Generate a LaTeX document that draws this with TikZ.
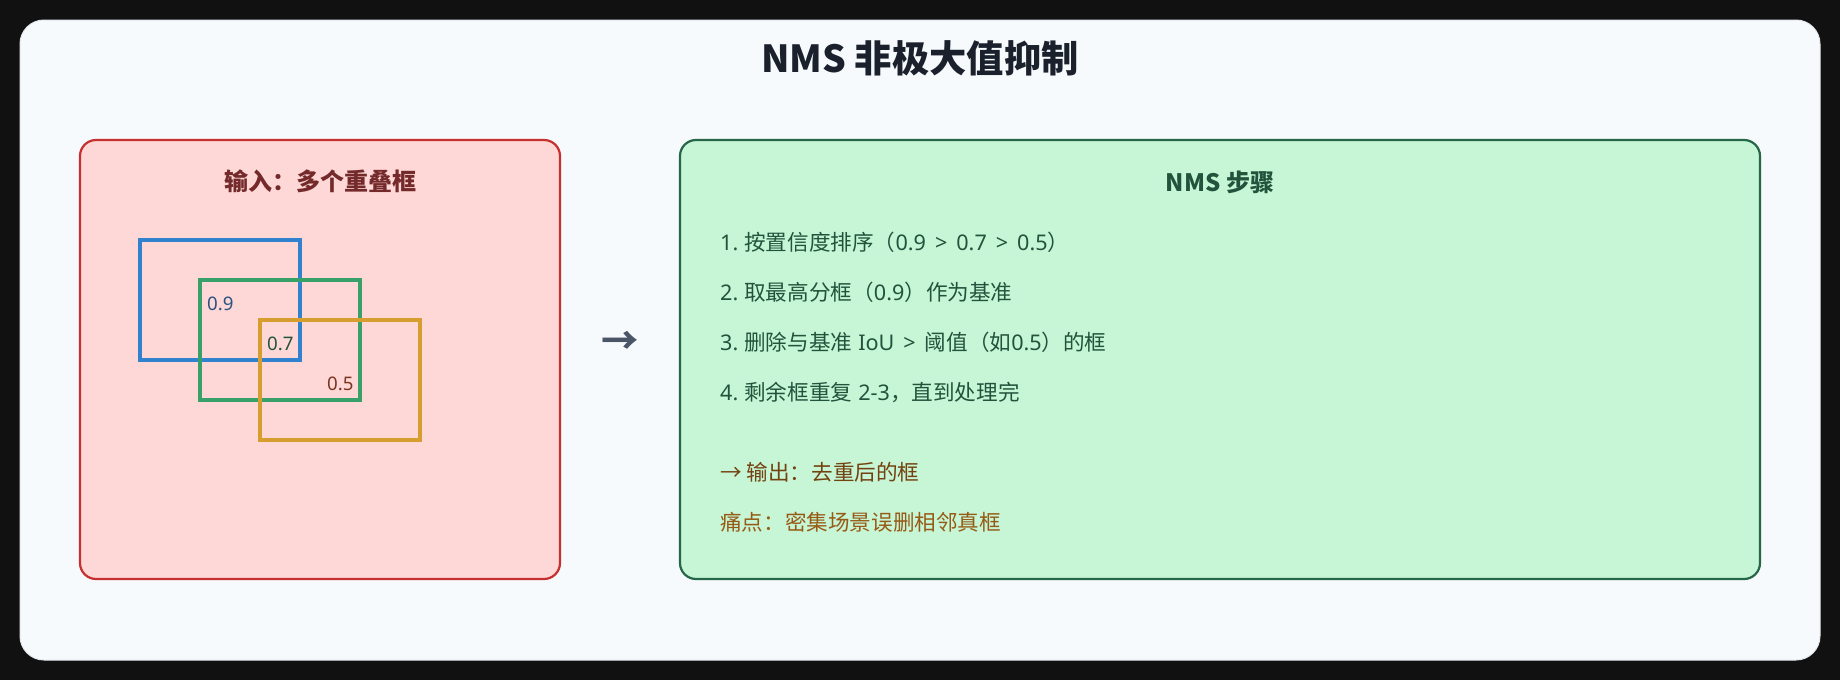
\documentclass[tikz,border=0pt]{standalone}
\usepackage{fontspec}
\setmainfont{Noto Sans CJK SC}
\newfontfamily\lat{Noto Sans}[WordSpace=1.6]
\definecolor{outerbg}{HTML}{111111}
\definecolor{framebg}{HTML}{F7FAFC}
\definecolor{frameedge}{HTML}{E2E8F0}
\definecolor{titlec}{HTML}{1A202C}
\definecolor{pinkfill}{HTML}{FED7D7}
\definecolor{pinkedge}{HTML}{C53030}
\definecolor{pinktitle}{HTML}{742A2A}
\definecolor{greenfill}{HTML}{C6F6D5}
\definecolor{greenedge}{HTML}{276749}
\definecolor{greentext}{HTML}{22543D}
\definecolor{boxblue}{HTML}{3182CE}
\definecolor{boxgreen}{HTML}{38A169}
\definecolor{boxorange}{HTML}{D69E2E}
\definecolor{lblblue}{HTML}{2C5282}
\definecolor{lblgreen}{HTML}{22543D}
\definecolor{lblbrown}{HTML}{7B341E}
\definecolor{outc}{HTML}{744210}
\definecolor{painc}{HTML}{975A16}
\definecolor{arrowc}{HTML}{4A5568}
\tikzset{
  panel/.style={rounded corners=16pt, line width=2.2pt},
  detbox/.style={line width=3.2pt},
  paneltitle/.style={anchor=base, inner sep=0pt, font=\fontsize{24}{29}\selectfont\bfseries},
  steptext/.style={anchor=base west, inner sep=0pt, text=greentext, font=\fontsize{21.6}{26}\selectfont},
  scorelbl/.style={anchor=base west, inner sep=0pt, font=\lat\fontsize{18.7}{22}\selectfont},
}
\begin{document}
\begin{tikzpicture}[x=1pt,y=-1pt]
\fill[outerbg] (0,0) rectangle (1840,680);
\useasboundingbox (0,0) rectangle (1840,680);
\filldraw[fill=framebg, draw=frameedge, line width=1pt, rounded corners=24pt] (20,20) rectangle (1820,660);
\node[anchor=base, inner sep=0pt, text=titlec, font=\fontsize{37.3}{44}\selectfont\bfseries] (title) at (920,72) {NMS 非极大值抑制};

% input panel
\filldraw[panel, fill=pinkfill, draw=pinkedge] (80,140) rectangle (560,579);
\node[paneltitle, text=pinktitle] (intitle) at (320,190) {输入：多个重叠框};
\draw[detbox, draw=boxblue] (140,240) rectangle (300,360);
\draw[detbox, draw=boxgreen] (200,280) rectangle (360,400);
\draw[detbox, draw=boxorange] (260,320) rectangle (420,440);
\node[scorelbl, text=lblblue] (s9) at (207,310) {0.9};
\node[scorelbl, text=lblgreen] (s7) at (267,350) {0.7};
\node[scorelbl, text=lblbrown] (s5) at (327,390) {0.5};

% arrow between panels
\node[anchor=center, inner sep=0pt, text=arrowc, font=\fontsize{37.3}{44}\selectfont\bfseries] (mid) at (620,343) {→};

% NMS steps panel
\filldraw[panel, fill=greenfill, draw=greenedge] (680,140) rectangle (1760,579);
\node[paneltitle, text=greentext] (steptitle) at (1220,191) {NMS 步骤};
\node[steptext] (st1) at (720,250) {{\lat 1.}\hspace{6pt}按置信度排序（{\lat 0.9 > 0.7 > 0.5}）};
\node[steptext] (st2) at (720,300) {{\lat 2.}\hspace{6pt}取最高分框（{\lat 0.9}）作为基准};
\node[steptext] (st3) at (720,350) {{\lat 3.}\hspace{6pt}删除与基准\hspace{6pt}{\lat IoU > }阈值（如{\lat 0.5}）的框};
\node[steptext] (st4) at (720,400) {{\lat 4.}\hspace{6pt}剩余框重复\hspace{6pt}{\lat 2-3}，直到处理完};
\node[steptext, text=outc] (out) at (720,480) {→ 输出：去重后的框};
\node[steptext, text=painc] (pain) at (720,530) {痛点：密集场景误删相邻真框};
\end{tikzpicture}
\end{document}
